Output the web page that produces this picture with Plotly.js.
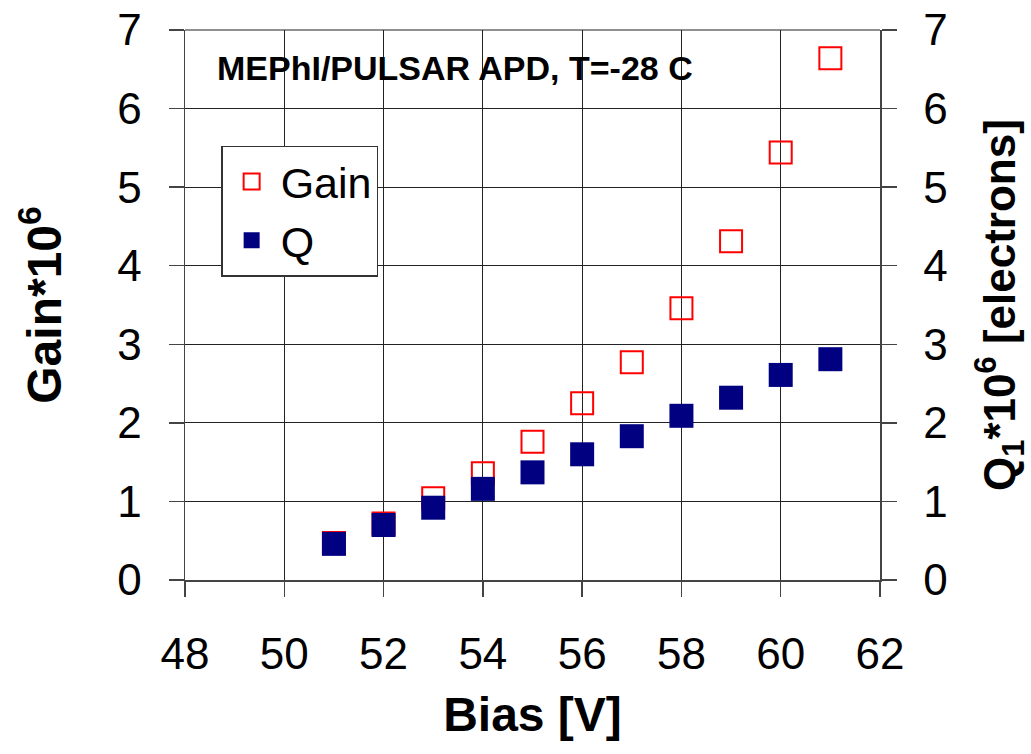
<!DOCTYPE html>
<html><head><meta charset="utf-8">
<script src="https://cdn.plot.ly/plotly-3.0.1.min.js"></script>
<style>html,body{margin:0;padding:0;background:#fff}</style>
</head><body>
<div id="chart" style="width:1031px;height:754px"></div>
<script>
const bias = [51, 52, 53, 54, 55, 56, 57, 58, 59, 60, 61];
const gain = [0.47, 0.72, 1.04, 1.36, 1.76, 2.25, 2.77, 3.46, 4.31, 5.44, 6.64];
const q1   = [0.46, 0.70, 0.92, 1.16, 1.37, 1.60, 1.83, 2.09, 2.32, 2.61, 2.81];
const xTicks = [48, 50, 52, 54, 56, 58, 60, 62];
const yTicks = [0, 1, 2, 3, 4, 5, 6, 7];

const FONT = 'Liberation Sans, Arial, sans-serif';
const traces = [
  {x: bias, y: gain, name: 'Gain', type: 'scatter', mode: 'markers', yaxis: 'y',
   marker: {symbol: 'square-open', size: 22, color: '#ff0000', line: {width: 2, color: '#ff0000'}}},
  {x: bias, y: q1, name: 'Q', type: 'scatter', mode: 'markers', yaxis: 'y2',
   marker: {symbol: 'square', size: 24, color: '#000080'}}
];
const axisCommon = {
  showline: true, linecolor: '#444', linewidth: 1.5,
  ticks: 'outside', ticklen: 15, tickwidth: 1.5, tickcolor: '#444',
  showgrid: true, gridcolor: '#222', gridwidth: 1.2, zeroline: false,
  tickfont: {family: FONT, size: 44, color: '#000'}
};
const layout = {
  width: 1031, height: 754,
  margin: {l: 185, r: 151, t: 30, b: 174},
  paper_bgcolor: '#fff', plot_bgcolor: '#fff',
  showlegend: true,
  legend: {x: 0.052, y: 0.79, xanchor: 'left', yanchor: 'top',
    bgcolor: '#fff', bordercolor: '#333', borderwidth: 1.5,
    font: {family: FONT, size: 43, color: '#000'}, itemwidth: 48, tracegroupgap: 10},
  xaxis: Object.assign({}, axisCommon, {
    range: [48, 62], tickvals: xTicks, ticktext: xTicks.map(String),
    ticklabelstandoff: 20, mirror: false,
    title: {text: '<b>Bias [V]</b>', font: {family: FONT, size: 48, color: '#000'}, standoff: 20}
  }),
  yaxis: Object.assign({}, axisCommon, {
    range: [0, 7], tickvals: yTicks, ticktext: yTicks.map(String),
    ticklabelstandoff: 18,
    title: {text: '<b>Gain*10<sup>6</sup></b>', font: {family: FONT, size: 48, color: '#000'}, standoff: 40}
  }),
  yaxis2: Object.assign({}, axisCommon, {
    overlaying: 'y', side: 'right', showgrid: false,
    range: [0, 7], tickvals: yTicks, ticktext: yTicks.map(String),
    ticklabelstandoff: 18,
    title: {text: '<b>Q<sub>1</sub>*10<sup>6</sup> [electrons]</b>', font: {family: FONT, size: 44, color: '#000'}, standoff: 40}
  }),
  shapes: [
    {type: 'line', xref: 'paper', yref: 'paper', x0: 0, x1: 1, y0: 1, y1: 1, line: {color: '#222', width: 1.2}}
  ],
  annotations: [
    {xref: 'paper', yref: 'paper', x: 0.043, y: 0.93, xanchor: 'left', yanchor: 'middle', showarrow: false,
     text: '<b>MEPhI/PULSAR APD, T=-28 C</b>', font: {family: FONT, size: 34, color: '#000'}}
  ]
};
Plotly.newPlot('chart', traces, layout, {displayModeBar: false, staticPlot: true});
</script>
</body></html>
